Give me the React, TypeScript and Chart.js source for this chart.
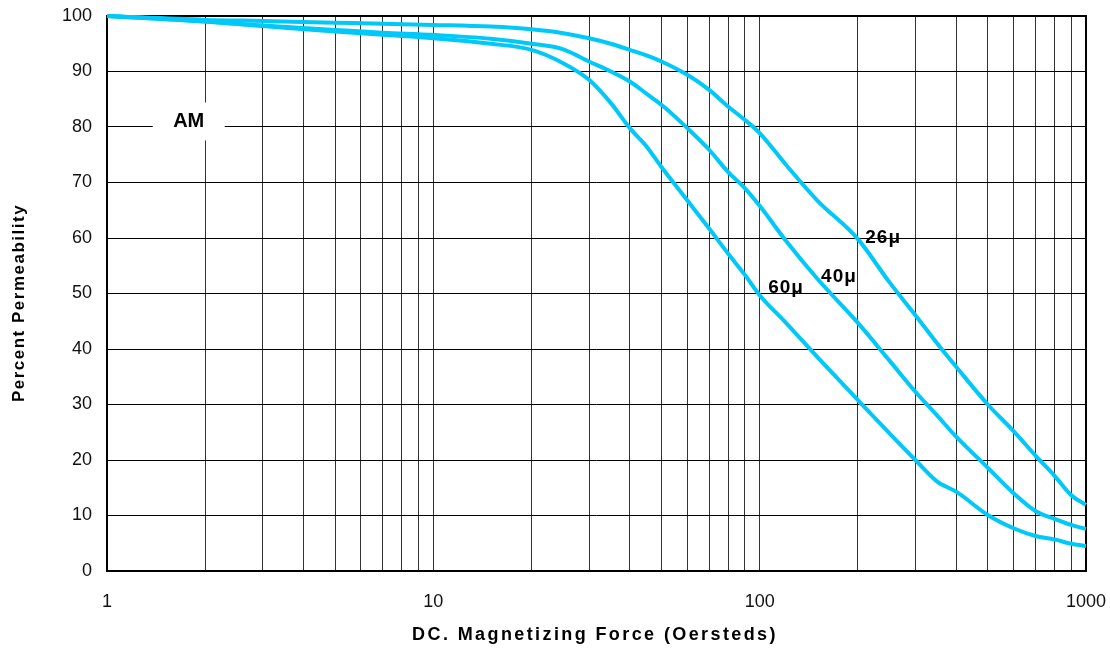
import { useEffect, useRef } from "react";
import { Chart, registerables } from "chart.js";

Chart.register(...registerables);

const FONT = "'Liberation Sans', Arial, Helvetica, sans-serif";

// DC magnetizing force (Oersteds)
const fieldOe = [1, 2, 3, 5, 7, 10, 15, 20, 25, 30, 35, 40, 45, 50, 60, 70, 80, 90, 100, 120, 150, 200, 250, 300, 350, 400, 500, 600, 700, 800, 900, 1000];

// Percent permeability for each material grade
const perm26 = [100, 99.3, 99.1, 98.8, 98.6, 98.4, 98.1, 97.6, 96.9, 96.0, 95.0, 93.9, 92.9, 91.8, 89.4, 86.7, 83.7, 81.3, 78.9, 73.3, 66.8, 59.8, 52.0, 46.1, 41.0, 36.8, 30.0, 25.2, 20.8, 17.2, 13.7, 11.9];
const perm40 = [100, 99.0, 98.3, 97.5, 97.0, 96.6, 95.9, 95.0, 94.0, 91.8, 90.0, 88.2, 86.0, 84.0, 79.8, 75.9, 71.9, 69.0, 65.8, 59.6, 52.7, 44.7, 37.9, 32.3, 28.0, 24.2, 18.6, 14.0, 10.8, 9.4, 8.3, 7.6];
const perm60 = [100, 99.0, 98.2, 97.2, 96.6, 96.0, 95.0, 93.9, 91.5, 88.5, 84.3, 79.8, 76.5, 72.8, 66.8, 61.7, 57.2, 53.4, 49.7, 44.8, 38.6, 30.8, 24.8, 20.0, 16.1, 14.3, 10.1, 7.7, 6.3, 5.7, 4.9, 4.5];

const seriesNames = ["26μ", "40μ", "60μ"];
// label anchors in data units (Oe, %)
const labelX = [239, 175, 120.5];
const labelY = [60, 53, 51];

const materialName = "AM";
const materialX = 1.78;
const materialY = 81;

const xGridValues = [1, 2, 3, 4, 5, 6, 7, 8, 9, 10, 20, 30, 40, 50, 60, 70, 80, 90, 100, 200, 300, 400, 500, 600, 700, 800, 900, 1000];
const xLabelValues = [1, 10, 100, 1000];

const xTitle = "DC. Magnetizing Force (Oersteds)";
const yTitle = "Percent Permeability";

const CURVE = "#00c8f8";

const annotations = {
  id: "annotations",
  beforeDatasetsDraw(chart: any) {
    const { ctx, chartArea } = chart;
    ctx.save();
    ctx.strokeStyle = "#000";
    ctx.lineWidth = 2;
    ctx.strokeRect(chartArea.left, chartArea.top, chartArea.right - chartArea.left, chartArea.bottom - chartArea.top);
    // AM label with white box
    const xs = chart.scales.x;
    const ys = chart.scales.y;
    const ax = xs.getPixelForValue(materialX);
    const ay = ys.getPixelForValue(materialY);
    ctx.fillStyle = "#fff";
    ctx.fillRect(ax - 36, ay - 19, 72, 38);
    ctx.fillStyle = "#000";
    ctx.font = `bold 20px ${FONT}`;
    ctx.textAlign = "center";
    ctx.textBaseline = "middle";
    ctx.fillText(materialName, ax, ay);
    ctx.restore();
  },
  afterDraw(chart: any) {
    const { ctx } = chart;
    const xs = chart.scales.x;
    const ys = chart.scales.y;
    ctx.save();
    ctx.fillStyle = "#000";
    ctx.textAlign = "center";
    ctx.textBaseline = "middle";
    ctx.font = `bold 19px ${FONT}`;
    (ctx as any).letterSpacing = "1px";
    seriesNames.forEach((n, i) => {
      ctx.fillText(n, xs.getPixelForValue(labelX[i]), ys.getPixelForValue(labelY[i]));
    });
    ctx.font = `bold 18px ${FONT}`;
    (ctx as any).letterSpacing = "2.4px";
    ctx.fillText(xTitle, 595, 635);
    ctx.font = `bold 17px ${FONT}`;
    (ctx as any).letterSpacing = "1.5px";
    ctx.translate(19, 303);
    ctx.rotate(-Math.PI / 2);
    ctx.fillText(yTitle, 0, 0);
    ctx.restore();
  },
};

export default function App() {
  const ref = useRef<HTMLCanvasElement>(null);
  useEffect(() => {
    if (!ref.current) return;
    const mk = (data: number[]) => ({
      data: fieldOe.map((x, i) => ({ x, y: data[i] })),
      borderColor: CURVE,
      backgroundColor: CURVE,
      borderWidth: 4,
      pointRadius: 0,
      fill: false,
      cubicInterpolationMode: "monotone" as const,
      clip: 4,
    });
    const chart = new Chart(ref.current, {
      type: "line",
      data: {
        datasets: [
          { label: seriesNames[0], ...mk(perm26) },
          { label: seriesNames[1], ...mk(perm40) },
          { label: seriesNames[2], ...mk(perm60) },
        ],
      },
      options: {
        animation: false,
        responsive: true,
        maintainAspectRatio: false,
        layout: { padding: { top: 16, right: 24, bottom: 0, left: 0 } },
        plugins: { legend: { display: false }, tooltip: { enabled: false } },
        scales: {
          x: {
            type: "logarithmic",
            min: 1,
            max: 1000,
            afterBuildTicks: (s: any) => {
              s.ticks = xGridValues.map((v) => ({ value: v }));
            },
            afterFit: (s: any) => {
              s.height = 79;
              s.paddingLeft = 0;
              s.paddingRight = 0;
            },
            ticks: {
              autoSkip: false,
              maxRotation: 0,
              minRotation: 0,
              padding: 20,
              color: "#111",
              font: { size: 18, family: FONT },
              callback: (v: any) => (xLabelValues.includes(Number(v)) ? String(v) : ""),
            },
            grid: { color: "#333", lineWidth: 1, drawTicks: false },
            border: { display: false },
          },
          y: {
            type: "linear",
            min: 0,
            max: 100,
            afterFit: (s: any) => {
              s.width = 107;
              s.paddingTop = 0;
              s.paddingBottom = 0;
            },
            ticks: {
              stepSize: 10,
              padding: 15,
              color: "#111",
              font: { size: 18, family: FONT },
            },
            grid: { color: "#000", lineWidth: 1, drawTicks: false },
            border: { display: false },
          },
        },
      },
      plugins: [annotations],
    });
    return () => chart.destroy();
  }, []);
  return (
    <div style={{ position: "absolute", left: 0, top: 0, width: 1110, height: 650, background: "#fff" }}>
      <canvas ref={ref} />
    </div>
  );
}
